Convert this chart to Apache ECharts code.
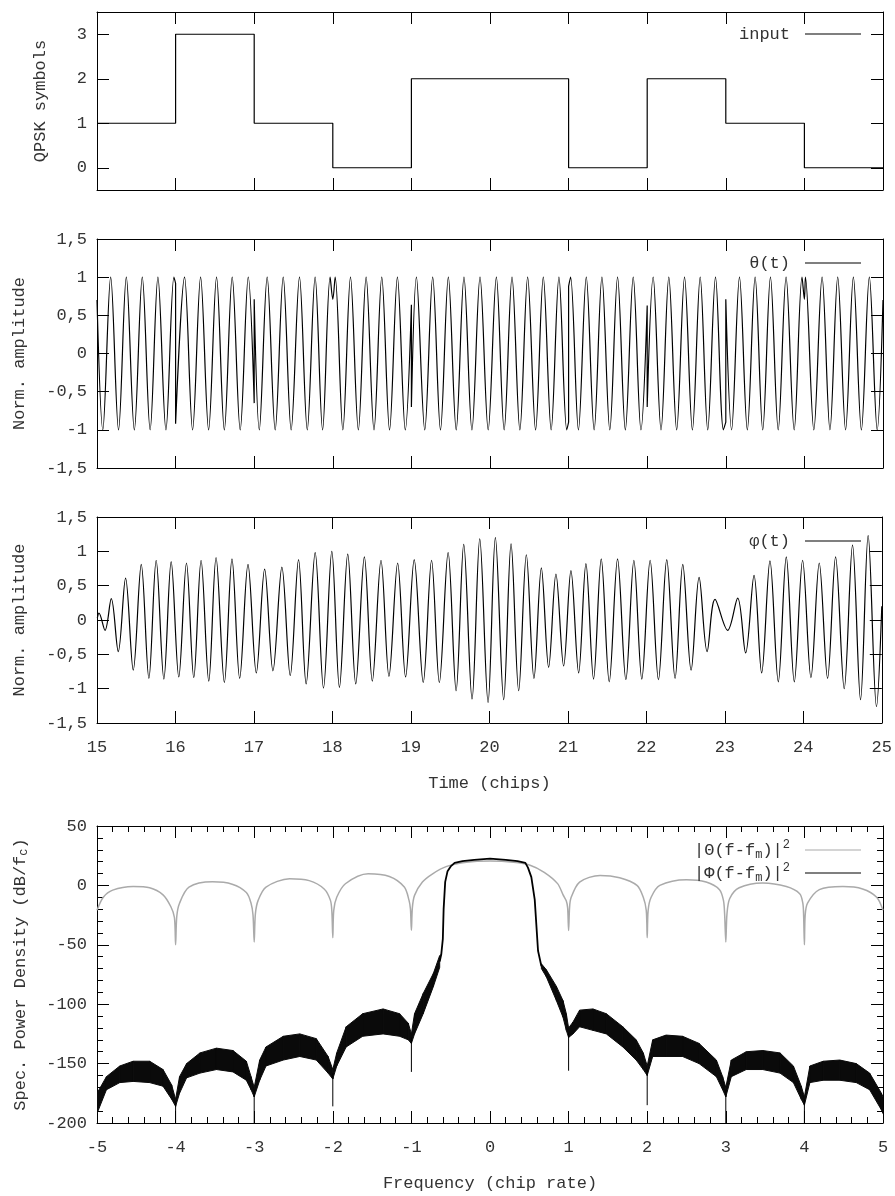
<!DOCTYPE html>
<html>
<head>
<meta charset="utf-8">
<script src="https://cdn.jsdelivr.net/npm/echarts@6/dist/echarts.min.js"></script>
<style>html,body{margin:0;padding:0;background:#fff}#c{width:895px;height:1196px}</style>
</head>
<body>
<div id="c"></div>
<script>
// ---------------- DATA ----------------
// Panel 1: QPSK input symbols per chip
const chipStarts = [15, 16, 17, 18, 19, 20, 21, 22, 23, 24];
const chipEnd = 25;
const symbols = [1, 3, 1, 0, 2, 2, 0, 2, 1, 0];

// Panel 2: theta(t) – extrema / boundary points (null = break)
const thetaTrace = [
 [15.000,0.70],[15.074,-1],[15.174,1],[15.274,-1],[15.373,1],[15.475,-1],[15.576,1],[15.676,-1],[15.775,1],[15.877,-1],[15.979,1],[16.000,0.92],
 null,[16.000,0.92],[16.000,-0.92],null,
 [16.000,-0.92],[16.114,1],[16.216,-1],[16.318,1],[16.420,-1],[16.521,1],[16.620,-1],[16.720,1],[16.822,-1],[16.924,1],[17.000,-0.65],
 null,[17.000,-0.65],[17.000,0.71],null,
 [17.000,0.71],[17.065,-1],[17.165,1],[17.267,-1],[17.369,1],[17.470,-1],[17.576,1],[17.675,-1],[17.775,1],[17.870,-1],[17.966,1],[18.000,0.71],
 [18.030,1],[18.128,-1],[18.225,1],[18.325,-1],[18.424,1],[18.524,-1],[18.623,1],[18.722,-1],[18.822,1],[18.922,-1],[19.000,0.64],
 null,[19.000,0.64],[19.000,-0.70],null,
 [19.000,-0.70],[19.064,1],[19.170,-1],[19.271,1],[19.370,-1],[19.470,1],[19.570,-1],[19.669,1],[19.770,-1],[19.873,1],[19.977,-1],
 [20.081,1],[20.180,-1],[20.280,1],[20.380,-1],[20.479,1],[20.580,-1],[20.678,1],[20.778,-1],[20.877,1],[20.977,-1],[21.000,-0.90],
 null,[21.000,-0.90],[21.000,0.88],null,
 [21.000,0.88],[21.025,1],[21.125,-1],[21.225,1],[21.325,-1],[21.424,1],[21.524,-1],[21.623,1],[21.722,-1],[21.822,1],[21.920,-1],[22.000,0.63],
 null,[22.000,0.63],[22.000,-0.70],null,
 [22.000,-0.70],[22.076,1],[22.176,-1],[22.275,1],[22.375,-1],[22.475,1],[22.575,-1],[22.674,1],[22.770,-1],[22.869,1],[22.970,-1],[23.000,-0.90],
 null,[23.000,-0.90],[23.000,0.71],null,
 [23.000,0.71],[23.074,-1],[23.174,1],[23.274,-1],[23.373,1],[23.470,-1],[23.568,1],[23.667,-1],[23.767,1],[23.870,-1],[23.970,1],[24.000,0.71],
 [24.013,1],[24.120,-1],[24.225,1],[24.325,-1],[24.424,1],[24.524,-1],[24.623,1],[24.725,-1],[24.826,1],[24.926,-1],[25.000,0.70]
];

// Panel 3: phi(t) – extrema
const phiTrace = [
 [15.004,0.03],[15.025,0.10],[15.102,-0.15],[15.182,0.31],[15.271,-0.46],[15.364,0.61],[15.462,-0.73],[15.564,0.81],[15.661,-0.85],[15.754,0.87],
 [15.852,-0.86],[15.945,0.85],[16.042,-0.83],[16.140,0.83],[16.233,-0.84],[16.326,0.87],[16.424,-0.89],[16.517,0.91],[16.623,-0.91],[16.720,0.89],
 [16.818,-0.85],[16.924,0.81],[17.030,-0.77],[17.136,0.74],[17.242,-0.74],[17.356,0.77],[17.462,-0.81],[17.568,0.88],[17.665,-0.93],[17.780,0.98],
 [17.886,-0.99],[17.992,1.00],[18.089,-0.98],[18.195,0.96],[18.297,-0.93],[18.407,0.92],[18.508,-0.89],[18.619,0.87],[18.720,-0.82],[18.831,0.83],
 [18.932,-0.83],[19.042,0.88],[19.157,-0.91],[19.263,0.87],[19.362,-0.91],[19.474,0.98],[19.576,-1.03],[19.673,1.10],[19.779,-1.15],[19.877,1.18],
 [19.983,-1.20],[20.076,1.20],[20.182,-1.16],[20.276,1.11],[20.373,-1.03],[20.471,0.95],[20.568,-0.85],[20.662,0.76],[20.755,-0.69],[20.848,0.67],
 [20.946,-0.67],[21.039,0.72],[21.137,-0.77],[21.230,0.82],[21.327,-0.86],[21.425,0.89],[21.527,-0.90],[21.633,0.89],[21.739,-0.87],[21.841,0.87],
 [21.942,-0.86],[22.048,0.87],[22.154,-0.87],[22.260,0.88],[22.366,-0.85],[22.464,0.81],[22.570,-0.73],[22.672,0.62],[22.774,-0.46],[22.875,0.30],
 [23.036,-0.15],[23.164,0.32],[23.265,-0.48],[23.372,0.65],[23.469,-0.77],[23.575,0.86],[23.681,-0.90],[23.783,0.92],[23.885,-0.90],[23.991,0.87],
 [24.097,-0.84],[24.203,0.83],[24.309,-0.85],[24.411,0.92],[24.521,-1.00],[24.627,1.09],[24.729,-1.16],[24.826,1.23],[24.932,-1.26],[25.000,0.20]
];

// Panel 4: |Theta(f-fm)|^2 in dB (grey)
const psdTheta = [
 [-5.00,-21],[-4.92,-10],[-4.80,-4],[-4.54,-1],[-4.33,-2],[-4.16,-8],[-4.06,-18],[-4.015,-27],[-4.00,-50],[-3.985,-26],[-3.95,-15],
 [-3.83,-1.5],[-3.53,3],[-3.28,1],[-3.10,-6],[-3.04,-15],[-3.015,-25],[-3.00,-47.6],[-2.985,-24],[-2.95,-12.6],
 [-2.85,-1.4],[-2.55,5.6],[-2.30,4],[-2.11,-3],[-2.03,-12.6],[-2.012,-22],[-2.00,-44],[-1.988,-21],[-1.95,-10],
 [-1.84,1.4],[-1.55,9.8],[-1.28,7.5],[-1.09,-1.4],[-1.03,-12.6],[-1.012,-20],[-1.00,-37.8],[-0.988,-19],[-0.96,-8.4],
 [-0.86,2.8],[-0.73,9.8],[-0.55,16],[-0.30,19.5],[0.00,20.5],[0.30,19.5],[0.51,17],[0.69,11],[0.86,1.5],[0.93,-8],[0.97,-13],[0.988,-19],[1.00,-38],[1.012,-19],[1.03,-10.6],
 [1.14,2.8],[1.40,8.4],[1.65,6.4],[1.87,0],[1.95,-10],[1.988,-21],[2.00,-44],[2.012,-21],[2.05,-10],
 [2.16,0],[2.50,4.8],[2.75,2.8],[2.92,-3.6],[2.97,-12.6],[2.985,-24],[3.00,-47.6],[3.015,-24],[3.05,-11],
 [3.17,-2],[3.47,2],[3.77,-1],[3.94,-7],[3.98,-15],[3.99,-25],[4.00,-50],[4.01,-25],[4.04,-15],
 [4.19,-3.6],[4.49,-1],[4.74,-3],[4.92,-10],[5.00,-21]
];

// Panel 4: |Phi(f-fm)|^2 in dB (black) – main lobe trace
const psdPhiMain = [
 [-0.64,-64],[-0.62,-58],[-0.60,-45],[-0.59,-20],[-0.57,3],[-0.54,12],[-0.50,16],[-0.45,19],[-0.35,20.5],[-0.20,21.5],[0.00,22.5],
 [0.20,21.5],[0.35,20.5],[0.45,19],[0.483,15],[0.526,7],[0.569,-12],[0.611,-55],[0.654,-68]
];
// noisy side-lobe band: [f, lower dB, upper dB]
const psdPhiBandLeft = [
 [-5.00,-192,-175],[-4.88,-172,-161],[-4.71,-166,-152],[-4.54,-165,-148],[-4.33,-166,-148],[-4.16,-169,-155],[-4.05,-180,-168],[-4.00,-186,-180],
 [-3.95,-175,-161],[-3.86,-162,-150],[-3.69,-158,-141],[-3.48,-155,-137],[-3.27,-157,-139],[-3.10,-164,-148],[-3.04,-172,-161],[-3.00,-178,-170],
 [-2.93,-164,-147],[-2.85,-152,-136],[-2.63,-147,-127],[-2.42,-144,-125],[-2.21,-147,-129],[-2.06,-158,-144],[-2.00,-163,-155],
 [-1.95,-152,-141],[-1.83,-136,-119],[-1.62,-127,-108],[-1.36,-125,-104],[-1.15,-127,-108],[-1.04,-130,-116],[-1.00,-133,-125],
 [-0.96,-125,-108],[-0.85,-108,-91],[-0.72,-85,-74],[-0.64,-69,-59]
];
const psdPhiBandRight = [
 [0.654,-70,-66],[0.717,-77,-71],[0.845,-97,-85],[0.929,-111,-97],[0.971,-122,-108],[1.00,-128,-120],
 [1.056,-125,-115],[1.14,-119,-105],[1.31,-122,-104],[1.48,-125,-108],[1.69,-136,-119],[1.86,-147,-130],[1.95,-155,-141],[2.00,-160,-152],
 [2.07,-144,-130],[2.24,-144,-126],[2.45,-144,-127],[2.66,-150,-133],[2.88,-161,-147],[2.96,-172,-161],[3.00,-178,-170],
 [3.07,-161,-147],[3.26,-155,-140],[3.47,-155,-139],[3.69,-158,-141],[3.86,-166,-152],[3.96,-180,-169],[4.00,-185,-178],
 [4.07,-166,-152],[4.24,-164,-148],[4.45,-164,-147],[4.66,-166,-150],[4.83,-172,-158],[4.98,-189,-175],[5.00,-192,-178]
];
// deep notches at integer chip-rate multiples: [f, from dB, to dB]
const psdPhiNotches = [
 [-4,-182,-200],[-3,-172,-200],[-2,-158,-186],[-1,-128,-157],[1,-124,-156],[2,-155,-185],[3,-172,-200],[4,-180,-200]
];

// ---------------- CHART ----------------
const FONT = 'Liberation Mono';
const TXT = '#333333';
const toPts = arr => arr.map(p => p === null ? ['-', '-'] : p);
const comma = v => String(v).replace('.', ',');

const grids = [
  {left: 97, right: 12, top: 12, height: 178},
  {left: 97, right: 12, top: 239, height: 229},
  {left: 97, right: 12, top: 517, height: 206},
  {left: 97, right: 12, top: 826, height: 297}
];

const axisCommon = {
  type: 'value',
  axisLine: {onZero: false, lineStyle: {color: '#000', width: 1}},
  axisTick: {inside: true, length: 12, lineStyle: {color: '#000', width: 1}},
  splitLine: {show: false},
  minorSplitLine: {show: false}
};
const labelStyle = {color: TXT, fontFamily: FONT, fontSize: 17};

function xPair(g, min, max, interval, showLabels, name, minor) {
  const base = Object.assign({}, axisCommon, {
    gridIndex: g, min, max, interval,
    minorTick: {show: !!minor, splitNumber: 5, length: 6, lineStyle: {color: '#000'}}
  });
  return [
    Object.assign({}, base, {
      position: 'bottom',
      axisLabel: Object.assign({show: showLabels, margin: 16}, labelStyle),
      name: name || '', nameLocation: 'middle', nameGap: 50, nameMoveOverlap: false,
      nameTextStyle: Object.assign({lineHeight: 20}, labelStyle)
    }),
    Object.assign({}, base, {position: 'top', axisLabel: {show: false}})
  ];
}
function yPair(g, min, max, interval, name, nameGap, fmt, custom, minor, rich) {
  const base = Object.assign({}, axisCommon, {
    gridIndex: g, min, max, interval,
    minorTick: {show: !!minor, splitNumber: 5, length: 6, lineStyle: {color: '#000'}}
  });
  if (custom) base.axisTick = Object.assign({}, axisCommon.axisTick, {customValues: custom});
  const lab = Object.assign({margin: 10, formatter: fmt}, labelStyle);
  if (custom) lab.customValues = custom;
  const nts = Object.assign({lineHeight: 20}, labelStyle);
  if (rich) nts.rich = rich;
  return [
    Object.assign({}, base, {position: 'left', axisLabel: lab, name, nameLocation: 'middle', nameGap, nameMoveOverlap: false, nameTextStyle: nts}),
    Object.assign({}, base, {position: 'right', axisLabel: {show: false}})
  ];
}

const subRich = {
  sub: {fontFamily: FONT, fontSize: 12, lineHeight: 12, verticalAlign: 'bottom', color: TXT},
  sup: {fontFamily: FONT, fontSize: 12, lineHeight: 12, verticalAlign: 'top', color: TXT}
};

const xAxis = [].concat(
  xPair(0, 15, 25, 1, false),
  xPair(1, 15, 25, 1, false),
  xPair(2, 15, 25, 1, true, 'Time (chips)'),
  xPair(3, -5, 5, 1, true, 'Frequency (chip rate)', true)
);
const yAxis = [].concat(
  yPair(0, -0.5, 3.5, 0.5, 'QPSK symbols', 47, v => String(v), [0, 1, 2, 3]),
  yPair(1, -1.5, 1.5, 0.5, 'Norm. amplitude', 68, comma),
  yPair(2, -1.5, 1.5, 0.5, 'Norm. amplitude', 68, comma),
  yPair(3, -200, 50, 50, 'Spec. Power Density (dB/f{sub|c})', 67, v => String(v), null, true, subRich)
);

const stepData = chipStarts.map((t, i) => [t, symbols[i]]).concat([[chipEnd, symbols[symbols.length - 1]]]);
const notchPts = [];
psdPhiNotches.forEach(n => { notchPts.push([n[0], n[1]], [n[0], n[2]], ['-', '-']); });

// filled band between lower and upper envelope, drawn through the axes' coord()
function bandSeries(band) {
  return {
    type: 'custom', xAxisIndex: 6, yAxisIndex: 6, silent: true, z: 3, clip: true,
    encode: {x: 0, y: [1, 2]},
    data: band,
    renderItem: function (params, api) {
      const i = params.dataIndex;
      if (i >= band.length - 1) return null;
      const a = band[i], b = band[i + 1];
      const pts = [api.coord([a[0], a[1]]), api.coord([b[0], b[1]]), api.coord([b[0], b[2]]), api.coord([a[0], a[2]])];
      return {type: 'polygon', shape: {points: pts}, style: {fill: '#0a0a0a', stroke: '#0a0a0a', lineWidth: 1}};
    }
  };
}

const legendText = Object.assign({lineHeight: 20, padding: [0, 10, 0, 0]}, labelStyle);
const legendBase = {orient: 'vertical', right: 34, padding: 0, align: 'right', icon: 'rect', itemWidth: 56, itemHeight: 1.2, selectedMode: false, textStyle: legendText};

const option = {
  animation: false,
  backgroundColor: '#fff',
  grid: grids,
  xAxis, yAxis,
  legend: [
    Object.assign({}, legendBase, {top: 24, data: ['input']}),
    Object.assign({}, legendBase, {top: 253, data: ['θ(t)']}),
    Object.assign({}, legendBase, {top: 531, data: ['φ(t)']}),
    Object.assign({}, legendBase, {top: 839, itemGap: 1, data: ['Theta2', 'Phi2'],
      formatter: n => n === 'Theta2' ? '|Θ(f-f{sub|m})|{sup|2}' : '|Φ(f-f{sub|m})|{sup|2}',
      textStyle: Object.assign({}, legendText, {lineHeight: 22, rich: subRich})})
  ],
  series: [
    {name: 'input', type: 'line', step: 'end', xAxisIndex: 0, yAxisIndex: 0, symbol: 'none',
     data: stepData, lineStyle: {color: '#000', width: 1.2}, itemStyle: {color: '#000'}},
    {name: 'θ(t)', type: 'line', xAxisIndex: 2, yAxisIndex: 2, symbol: 'none', smooth: 0.35,
     data: toPts(thetaTrace), lineStyle: {color: '#000', width: 1.2}, itemStyle: {color: '#000'}},
    {name: 'φ(t)', type: 'line', xAxisIndex: 4, yAxisIndex: 4, symbol: 'none', smooth: 0.35,
     data: toPts(phiTrace), lineStyle: {color: '#000', width: 1.2}, itemStyle: {color: '#000'}},
    {name: 'Theta2', type: 'line', xAxisIndex: 6, yAxisIndex: 6, symbol: 'none', smooth: 0.3,
     data: psdTheta, lineStyle: {color: '#aaaaaa', width: 1.5}, itemStyle: {color: '#aaaaaa'}, z: 2},
    bandSeries(psdPhiBandLeft),
    bandSeries(psdPhiBandRight),
    {name: 'Phi2', type: 'line', xAxisIndex: 6, yAxisIndex: 6, symbol: 'none',
     data: psdPhiMain, lineStyle: {color: '#000', width: 1.8}, itemStyle: {color: '#000'}, z: 4},
    {type: 'line', xAxisIndex: 6, yAxisIndex: 6, symbol: 'none', silent: true,
     data: notchPts, lineStyle: {color: '#000', width: 1}, z: 4}
  ]
};

const chart = echarts.init(document.getElementById('c'), null, {renderer: 'canvas'});
chart.setOption(option);
</script>
</body>
</html>
